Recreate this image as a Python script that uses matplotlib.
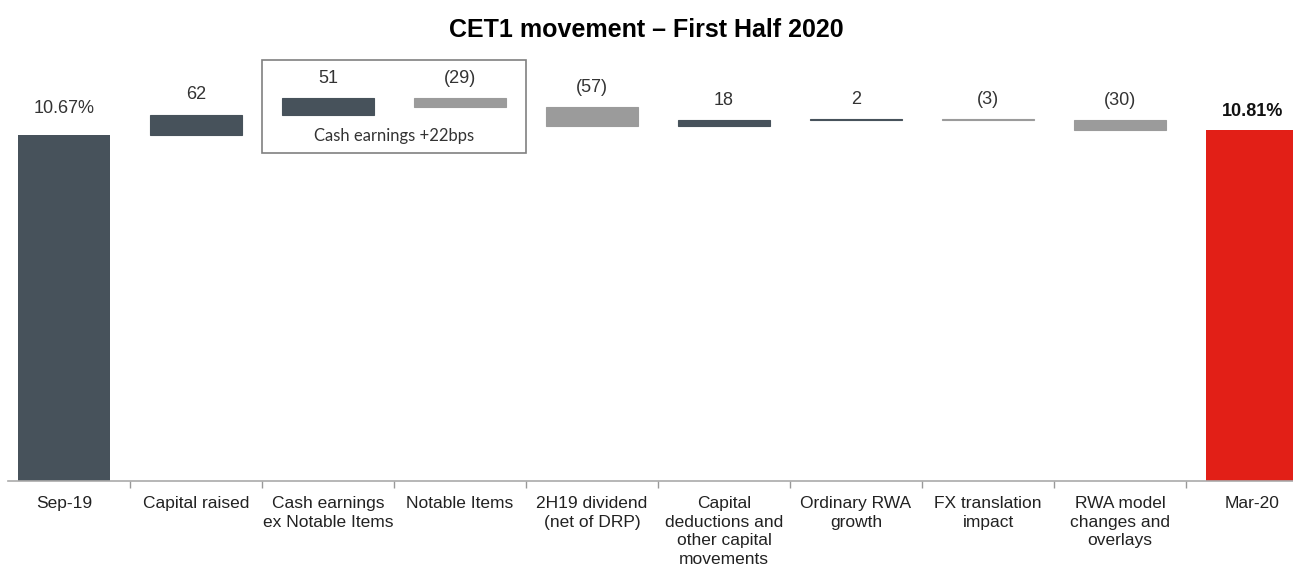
import matplotlib.pyplot as plt
from matplotlib.patches import Rectangle

categories = ["Sep-19", "Capital raised", "Cash earnings\nex Notable Items", "Notable Items",
              "2H19 dividend\n(net of DRP)", "Capital\ndeductions and\nother capital\nmovements",
              "Ordinary RWA\ngrowth", "FX translation\nimpact", "RWA model\nchanges and\noverlays", "Mar-20"]
start_bps = 1067
moves_bps = [62, 51, -29, -57, 18, 2, -3, -30]
end_bps = start_bps + sum(moves_bps)
box_label = "Cash earnings +22bps"

dark = "#47525B"
grey = "#9B9B9B"
red = "#E21F17"

fig = plt.figure(figsize=(12.93, 5.70), dpi=100)
ax = fig.add_axes([8 / 1293, 89 / 570, 1 - 8 / 1293, 421 / 570])

lab_font = ["Liberation Sans Narrow", "Liberation Sans", "DejaVu Sans"]

# end bars
x = list(range(len(categories)))
ax.bar(0, start_bps, width=0.7, color=dark)
ax.bar(9, end_bps, width=0.7, color=red)

# floating bars
level = start_bps
tops = []
for i, d in enumerate(moves_bps, start=1):
    bottom = level if d >= 0 else level + d
    c = dark if d >= 0 else grey
    ax.bar(i, abs(d), bottom=bottom, width=0.7, color=c, edgecolor=c, linewidth=0.8)
    tops.append(max(level, level + d))
    level += d

# value labels
ax.annotate(f"{start_bps / 100:.2f}%", (0, start_bps), xytext=(0, 13), textcoords="offset points",
            ha="center", va="bottom", fontsize=13, family=lab_font, color="#333333")
ax.annotate(f"{end_bps / 100:.2f}%", (9, end_bps), xytext=(0, 7), textcoords="offset points",
            ha="center", va="bottom", fontsize=13, family=lab_font, fontweight="bold", color="#111111")
for i, (d, t) in enumerate(zip(moves_bps, tops), start=1):
    txt = f"{d}" if d >= 0 else f"({-d})"
    ax.annotate(txt, (i, t), xytext=(0, 8), textcoords="offset points",
                ha="center", va="bottom", fontsize=13, family=lab_font, color="#333333")

# box around cash earnings items
ax.add_patch(Rectangle((1.5, 1011), 2.0, 286, fill=False, edgecolor="#808080", linewidth=1.2, clip_on=False))
ax.text(2.5, 1062, box_label, ha="center", va="center", fontsize=12, family="Lato", color="#333333")

ax.set_xlim(-0.424, 9.31)
ax.set_ylim(0, 1297)

ax.set_xticks(x)
ax.set_xticklabels(categories, fontsize=12.5, family=lab_font, color="#222222", linespacing=1.3)
ax.tick_params(axis="x", which="major", length=0, pad=11)
ax.set_xticks([i + 0.5 for i in range(9)], minor=True)
ax.tick_params(axis="x", which="minor", length=5, color="#999999", width=1)
ax.set_yticks([])
for s in ["top", "right", "left"]:
    ax.spines[s].set_visible(False)
ax.spines["bottom"].set_color("#AAAAAA")
ax.spines["bottom"].set_linewidth(1.2)

fig.text(0.5, 1 - 30 / 570, "CET1 movement \u2013 First Half 2020", ha="center", va="center",
         fontsize=18, fontweight="bold", family="Liberation Sans")

fig.savefig("out.png", dpi=100)
